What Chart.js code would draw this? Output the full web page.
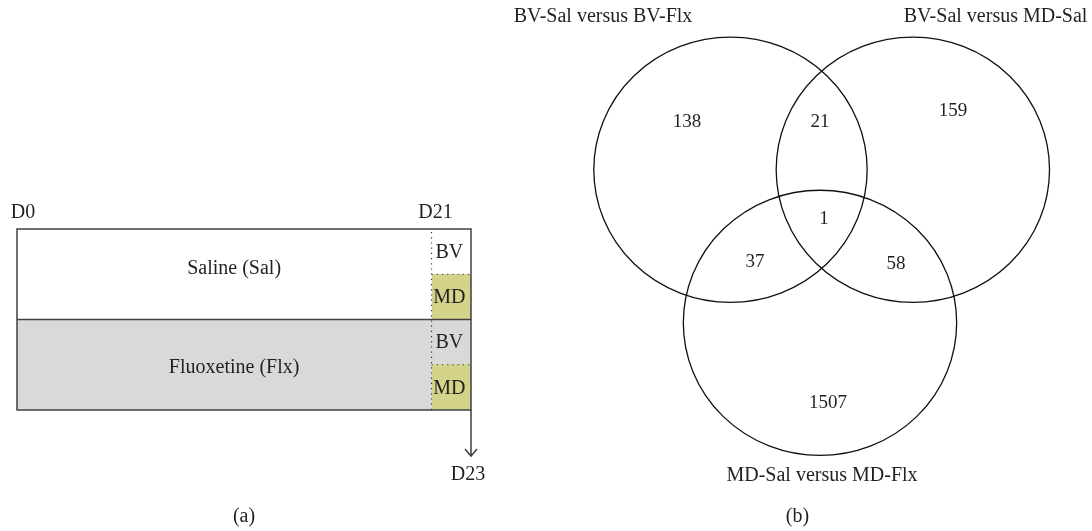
<!DOCTYPE html>
<html>
<head>
<meta charset="utf-8">
<script src="https://cdn.jsdelivr.net/npm/chart.js@4.4.1/dist/chart.umd.min.js"></script>
<style>
  body { margin: 0; background: #fff; }
  #wrap { position: relative; width: 1092px; height: 531px; }
  canvas { position: absolute; top: 0; }
  #design { left: 0; }
  #venn { left: 490px; }
</style>
</head>
<body>
<div id="wrap">
  <canvas id="design" width="490" height="531"></canvas>
  <canvas id="venn" width="602" height="531"></canvas>
</div>
<script>
// ---- panel (a): treatment timeline ----
const rows = ['Sal BV', 'Sal MD', 'Flx BV', 'Flx MD'];
const treatmentSpan = [0, 21];
const samplingSpan = [21, 23];
const treatmentColors = ['#ffffff', '#ffffff', '#d9d9d9', '#d9d9d9'];
const samplingColors = ['#ffffff', '#d4d38a', '#d9d9d9', '#d4d38a'];
const treatmentNames = ['Saline (Sal)', 'Fluoxetine (Flx)'];
const treatmentLabelRows = [0.37, 2.57];
const samplingNames = ['BV', 'MD', 'BV', 'MD'];
const dayLabels = ['D0', 'D21', 'D23'];
const dayValues = [0, 21, 23];

// ---- panel (b): venn counts ----
const setNames = ['BV-Sal versus BV-Flx', 'BV-Sal versus MD-Sal', 'MD-Sal versus MD-Flx'];
const setCenterX = [-0.683, 0.678, -0.015];
const setCenterY = [0.0, 0.0, -1.143];
const setRadiusX = [1.02, 1.02, 1.02];
const setRadiusY = [0.99, 0.99, 0.99];
const setLabelX = [-1.634, 1.295, 0.0];
const setLabelY = [1.143, 1.143, -2.285];
const regionCounts = [138, 21, 159, 1, 37, 58, 1507];
const regionX = [-1.007, -0.015, 0.978, 0.015, -0.50, 0.552, 0.045];
const regionY = [0.357, 0.357, 0.439, -0.367, -0.687, -0.703, -1.74];

const serif = "'Liberation Serif', 'DejaVu Serif', serif";
const ink = '#231f20';

const designPlugin = {
  id: 'design',
  afterDatasetsDraw(chart) {
    const {ctx, chartArea: a, scales: {x, y}} = chart;
    const rowH = a.height / rows.length;
    const edge = i => a.top + i * rowH;
    const x0 = x.getPixelForValue(dayValues[0]);
    const x21 = x.getPixelForValue(dayValues[1]);
    const x23 = x.getPixelForValue(dayValues[2]);
    ctx.save();
    ctx.strokeStyle = '#404040';
    ctx.lineWidth = 1.5;
    ctx.strokeRect(x0, a.top, x23 - x0, a.bottom - a.top);
    ctx.beginPath();
    ctx.moveTo(x0, edge(2));
    ctx.lineTo(x23, edge(2));
    ctx.stroke();
    // dotted dividers
    ctx.lineWidth = 1.2;
    ctx.strokeStyle = '#333';
    ctx.setLineDash([1.2, 4]);
    ctx.beginPath();
    ctx.moveTo(x21, a.top + 3);
    ctx.lineTo(x21, a.bottom);
    ctx.moveTo(x21, edge(1));
    ctx.lineTo(x23, edge(1));
    ctx.moveTo(x21, edge(3));
    ctx.lineTo(x23, edge(3));
    ctx.stroke();
    ctx.setLineDash([]);
    // arrow to D23
    ctx.strokeStyle = '#404040';
    ctx.lineWidth = 1.5;
    const ay = a.bottom + 46;
    ctx.beginPath();
    ctx.moveTo(x23, a.bottom);
    ctx.lineTo(x23, ay);
    ctx.moveTo(x23 - 6, ay - 7);
    ctx.lineTo(x23, ay);
    ctx.lineTo(x23 + 6, ay - 7);
    ctx.stroke();
    // texts
    ctx.fillStyle = ink;
    ctx.font = '20px ' + serif;
    ctx.textAlign = 'center';
    ctx.textBaseline = 'middle';
    treatmentNames.forEach((t, i) => {
      ctx.fillText(t, x.getPixelForValue(11), y.getPixelForValue(treatmentLabelRows[i]));
    });
    samplingNames.forEach((t, i) => {
      ctx.fillText(t, x.getPixelForValue(21.9), y.getPixelForValue(i) + 1);
    });
    ctx.fillText(dayLabels[0], x.getPixelForValue(0.3), a.top - 16);
    ctx.fillText(dayLabels[1], x.getPixelForValue(21.2), a.top - 16);
    ctx.fillText(dayLabels[2], x.getPixelForValue(22.85), a.bottom + 65);
    ctx.fillText('(a)', (x0 + x23) / 2, 517);
    ctx.restore();
  }
};

new Chart(document.getElementById('design'), {
  type: 'bar',
  data: {
    labels: rows,
    datasets: [{
      label: 'treatment',
      data: rows.map(() => treatmentSpan),
      backgroundColor: treatmentColors,
      borderWidth: 0,
      grouped: false,
      categoryPercentage: 1,
      barPercentage: 1
    }, {
      label: 'sampling',
      data: rows.map(() => samplingSpan),
      backgroundColor: samplingColors,
      borderWidth: 0,
      grouped: false,
      categoryPercentage: 1,
      barPercentage: 1
    }]
  },
  options: {
    indexAxis: 'y',
    responsive: false,
    animation: false,
    devicePixelRatio: 1,
    layout: {padding: {left: 17, right: 19, top: 229, bottom: 121}},
    plugins: {legend: {display: false}, tooltip: {enabled: false}},
    scales: {
      x: {type: 'linear', min: 0, max: 23, display: false},
      y: {type: 'category', display: false}
    }
  },
  plugins: [designPlugin]
});

const vennPlugin = {
  id: 'venn',
  afterDatasetsDraw(chart) {
    const {ctx, scales: {x, y}} = chart;
    ctx.save();
    ctx.strokeStyle = '#111';
    ctx.lineWidth = 1.3;
    setNames.forEach((name, i) => {
      const cx = x.getPixelForValue(setCenterX[i]);
      const cy = y.getPixelForValue(setCenterY[i]);
      const rx = x.getPixelForValue(setCenterX[i] + setRadiusX[i]) - cx;
      const ry = cy - y.getPixelForValue(setCenterY[i] + setRadiusY[i]);
      ctx.beginPath();
      ctx.ellipse(cx, cy, rx, ry, 0, 0, Math.PI * 2);
      ctx.stroke();
    });
    ctx.fillStyle = ink;
    ctx.textAlign = 'center';
    ctx.textBaseline = 'middle';
    ctx.font = '20px ' + serif;
    setNames.forEach((name, i) => {
      ctx.fillText(name, x.getPixelForValue(setLabelX[i]), y.getPixelForValue(setLabelY[i]));
    });
    ctx.fillText('(b)', x.getPixelForValue(-0.183), y.getPixelForValue(-2.59));
    ctx.font = '19px ' + serif;
    const meta = chart.getDatasetMeta(0);
    meta.data.forEach((pt, i) => {
      ctx.fillText(String(regionCounts[i]), pt.x, pt.y);
    });
    ctx.restore();
  }
};

new Chart(document.getElementById('venn'), {
  type: 'scatter',
  data: {
    datasets: [{
      label: 'regions',
      data: regionCounts.map((c, i) => ({x: regionX[i], y: regionY[i]})),
      pointRadius: 0
    }]
  },
  options: {
    responsive: false,
    animation: false,
    devicePixelRatio: 1,
    layout: {padding: {left: 64, right: 2, top: 9, bottom: 13}},
    plugins: {legend: {display: false}, tooltip: {enabled: false}},
    scales: {
      x: {type: 'linear', min: -2, max: 2, display: false},
      y: {type: 'linear', min: -2.6, max: 1.2, display: false}
    }
  },
  plugins: [vennPlugin]
});
</script>
</body>
</html>
